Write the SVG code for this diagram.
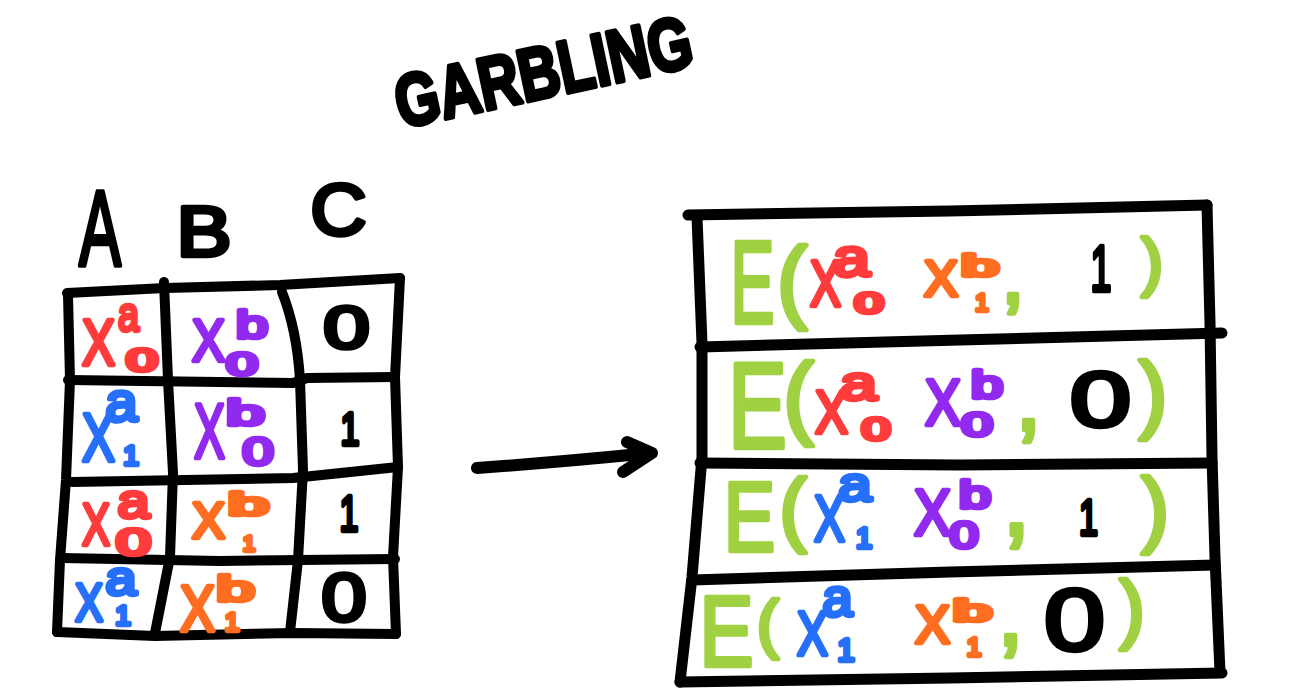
<svg xmlns="http://www.w3.org/2000/svg" width="1290" height="699" viewBox="0 0 1290 699">
<style>
text{font-family:"Liberation Sans",Arial,sans-serif;text-anchor:middle;stroke-linejoin:round;stroke-width:4.5}
.k{fill:#000;stroke:#000}
.r{fill:#ff3b3b;stroke:#ff3b3b}
.p{fill:#9229ef;stroke:#9229ef}
.b{fill:#266ff8;stroke:#266ff8}
.o{fill:#ff6d20;stroke:#ff6d20}
.g{fill:#9fd143;stroke:#9fd143}
.ln{fill:none;stroke:#000;stroke-width:10;stroke-linecap:round;stroke-linejoin:round}
.ln2{fill:none;stroke:#000;stroke-width:11;stroke-linecap:round;stroke-linejoin:round}
.ar{fill:none;stroke:#000;stroke-width:12;stroke-linecap:round;stroke-linejoin:round}
</style>
<rect width="1290" height="699" fill="#fff"/>

<g id="title">
<text class="k" transform="translate(402,128) rotate(-12)" x="150" y="0" font-size="74" font-weight="bold" textLength="302" lengthAdjust="spacingAndGlyphs">GARBLING</text>
</g>

<g id="truth-table">
<g id="headers">
<text class="k" x="100" y="266" font-size="107" textLength="42" lengthAdjust="spacingAndGlyphs">A</text>
<text class="k" x="204" y="256" font-size="71" textLength="55" lengthAdjust="spacingAndGlyphs">B</text>
<text class="k" x="338.5" y="235" font-size="72.6" textLength="56" lengthAdjust="spacingAndGlyphs">C</text>
</g>
<g id="grid-left">
<path class="ln" d="M67 293 L165 288 L280 285 L400 278"/>
<path class="ln" d="M68 295 L70 380 L66 480 L60 560 L57 632"/>
<path class="ln" d="M57 632 L155 636 L292 633 L396 634"/>
<path class="ln" d="M400 278 L395 377 L398 467 L393 557 L396 634"/>
<path class="ln" d="M164 282 L168 380 L173 473 L170 557 L155 633"/>
<path class="ln" d="M282 292 Q297 330 300 380 L303 470 L298 560 L290 632"/>
<path class="ln" d="M68 380 L293 383 L307 378 L395 377"/>
<path class="ln" d="M72 482 L293 478 L398 467"/>
<path class="ln" d="M62 558 L220 561 L395 559"/>
</g>
<g id="row-1-left">
<text class="r"><tspan x="98.5" y="365" font-size="64" textLength="33" lengthAdjust="spacingAndGlyphs">X</tspan><tspan x="128.5" y="331" font-size="49" textLength="21" lengthAdjust="spacingAndGlyphs">a</tspan><tspan x="142" y="371" font-size="30.5" textLength="31" lengthAdjust="spacingAndGlyphs">0</tspan></text>
<text class="p"><tspan x="208.5" y="361" font-size="58.7" textLength="33" lengthAdjust="spacingAndGlyphs">X</tspan><tspan x="252" y="338" font-size="39.7" textLength="32" lengthAdjust="spacingAndGlyphs">b</tspan><tspan x="242" y="375" font-size="32" textLength="31" lengthAdjust="spacingAndGlyphs">0</tspan></text>
<text class="k" x="346.5" y="348" font-size="60" textLength="46" lengthAdjust="spacingAndGlyphs">0</text>
</g>
<g id="row-2-left">
<text class="b"><tspan x="98.5" y="461" font-size="68.4" textLength="33" lengthAdjust="spacingAndGlyphs">X</tspan><tspan x="121.5" y="421" font-size="54.7" textLength="32" lengthAdjust="spacingAndGlyphs">a</tspan><tspan x="131" y="465" font-size="28">1</tspan></text>
<text class="p"><tspan x="209.5" y="458" font-size="78" textLength="31" lengthAdjust="spacingAndGlyphs">X</tspan><tspan x="245.5" y="425" font-size="35.6" textLength="38" lengthAdjust="spacingAndGlyphs">b</tspan><tspan x="258" y="465" font-size="39" textLength="31" lengthAdjust="spacingAndGlyphs">0</tspan></text>
<text class="k" x="350" y="445" font-size="46" textLength="19" lengthAdjust="spacingAndGlyphs">1</text>
</g>
<g id="row-3-left">
<text class="r"><tspan x="96" y="545" font-size="60" textLength="28" lengthAdjust="spacingAndGlyphs">X</tspan><tspan x="133.5" y="518" font-size="49" textLength="32" lengthAdjust="spacingAndGlyphs">a</tspan><tspan x="133.5" y="555" font-size="36" textLength="34.5" lengthAdjust="spacingAndGlyphs">0</tspan></text>
<text class="o"><tspan x="208.5" y="538" font-size="50" textLength="33" lengthAdjust="spacingAndGlyphs">X</tspan><tspan x="248.5" y="515" font-size="31.5" textLength="40" lengthAdjust="spacingAndGlyphs">b</tspan><tspan x="249" y="551" font-size="22">1</tspan></text>
<text class="k" x="349" y="531" font-size="50" textLength="19" lengthAdjust="spacingAndGlyphs">1</text>
</g>
<g id="row-4-left">
<text class="b"><tspan x="89" y="621" font-size="54.5" textLength="28" lengthAdjust="spacingAndGlyphs">X</tspan><tspan x="121" y="595" font-size="49" textLength="31" lengthAdjust="spacingAndGlyphs">a</tspan><tspan x="123" y="625" font-size="28">1</tspan></text>
<text class="o"><tspan x="197.5" y="631" font-size="64" textLength="35" lengthAdjust="spacingAndGlyphs">X</tspan><tspan x="235.5" y="601" font-size="35.6" textLength="38" lengthAdjust="spacingAndGlyphs">b</tspan><tspan x="232" y="631" font-size="26.5">1</tspan></text>
<text class="k" x="344" y="621" font-size="68" textLength="45" lengthAdjust="spacingAndGlyphs">0</text>
</g>
</g>

<g id="connectors">
<path class="ar" d="M477 468 Q560 462 650 453"/>
<path class="ar" d="M627 442 L652 453 L623 472"/>
</g>

<g id="garbled-table">
<g id="grid-right">
<path class="ln2" d="M688 215 L950 211 L1207 205"/>
<path class="ln2" d="M1207 205 L1210 323 L1212 457 L1215 557 L1220 672"/>
<path class="ln2" d="M697 217 L702 343 L702 457 L692 577 L680 682"/>
<path class="ln2" d="M700 347 L960 340 L1222 333"/>
<path class="ln2" d="M700 463 L960 465 L1212 463"/>
<path class="ln2" d="M692 580 L950 572 L1215 565"/>
<path class="ln2" d="M680 682 L950 678 L1222 673"/>
</g>
<g id="row-1-right">
<text class="g"><tspan x="752.5" y="323" font-size="116" textLength="44" lengthAdjust="spacingAndGlyphs">E</tspan><tspan x="792" y="311" font-size="90.4">(</tspan><tspan class="r" x="825.5" y="306" font-size="64" textLength="31" lengthAdjust="spacingAndGlyphs">X</tspan><tspan class="r" x="851.5" y="276" font-size="51" textLength="36.6" lengthAdjust="spacingAndGlyphs">a</tspan><tspan class="r" x="869" y="313" font-size="29" textLength="28.6" lengthAdjust="spacingAndGlyphs">0</tspan><tspan class="o" x="941" y="296" font-size="50" textLength="34" lengthAdjust="spacingAndGlyphs">X</tspan><tspan class="o" x="980" y="276" font-size="30" textLength="37" lengthAdjust="spacingAndGlyphs">b</tspan><tspan class="o" x="982" y="311" font-size="24">1</tspan><tspan x="1013" y="302.7" font-size="84">,</tspan><tspan class="k" x="1101" y="291" font-size="64" textLength="21" lengthAdjust="spacingAndGlyphs">1</tspan><tspan x="1152.2" y="284.3" font-size="65">)</tspan></text>
</g>
<g id="row-2-right">
<text class="g"><tspan x="757.5" y="448" font-size="123" textLength="59" lengthAdjust="spacingAndGlyphs">E</tspan><tspan x="798.4" y="426.6" font-size="91.5">(</tspan><tspan class="r" x="831.5" y="433" font-size="61.5" textLength="33" lengthAdjust="spacingAndGlyphs">X</tspan><tspan class="r" x="858.5" y="400" font-size="49" textLength="36.6" lengthAdjust="spacingAndGlyphs">a</tspan><tspan class="r" x="876" y="440" font-size="32" textLength="28.6" lengthAdjust="spacingAndGlyphs">0</tspan><tspan class="p" x="943" y="425" font-size="64" textLength="36" lengthAdjust="spacingAndGlyphs">X</tspan><tspan class="p" x="987" y="398" font-size="38" textLength="32" lengthAdjust="spacingAndGlyphs">b</tspan><tspan class="p" x="977" y="436" font-size="33" textLength="31" lengthAdjust="spacingAndGlyphs">0</tspan><tspan x="1028.5" y="429.6" font-size="92">,</tspan><tspan class="k" x="1100.5" y="426" font-size="78" textLength="61" lengthAdjust="spacingAndGlyphs">0</tspan><tspan x="1153" y="421.6" font-size="86">)</tspan></text>
</g>
<g id="row-3-right">
<text class="g"><tspan x="749.5" y="551" font-size="99" textLength="51.5" lengthAdjust="spacingAndGlyphs">E</tspan><tspan x="793" y="536" font-size="81">(</tspan><tspan class="b" x="829.5" y="541" font-size="65.6" textLength="31" lengthAdjust="spacingAndGlyphs">X</tspan><tspan class="b" x="855" y="501" font-size="49" textLength="33" lengthAdjust="spacingAndGlyphs">a</tspan><tspan class="b" x="864" y="548" font-size="29">1</tspan><tspan class="p" x="932.5" y="535" font-size="64" textLength="37" lengthAdjust="spacingAndGlyphs">X</tspan><tspan class="p" x="975" y="508" font-size="38" textLength="32" lengthAdjust="spacingAndGlyphs">b</tspan><tspan class="p" x="964" y="548" font-size="36" textLength="28.6" lengthAdjust="spacingAndGlyphs">0</tspan><tspan x="1016.5" y="535.4" font-size="100">,</tspan><tspan class="k" x="1088.5" y="535" font-size="50" textLength="19" lengthAdjust="spacingAndGlyphs">1</tspan><tspan x="1155" y="537.4" font-size="83">)</tspan></text>
</g>
<g id="row-4-right">
<text class="g"><tspan x="726.5" y="666" font-size="100.5" textLength="54" lengthAdjust="spacingAndGlyphs">E</tspan><tspan x="767.8" y="646.3" font-size="65">(</tspan><tspan class="b" x="812.5" y="655" font-size="62.8" textLength="31" lengthAdjust="spacingAndGlyphs">X</tspan><tspan class="b" x="837.5" y="616" font-size="51" textLength="30" lengthAdjust="spacingAndGlyphs">a</tspan><tspan class="b" x="846" y="661" font-size="30.7">1</tspan><tspan class="o" x="932.5" y="643" font-size="53" textLength="35" lengthAdjust="spacingAndGlyphs">X</tspan><tspan class="o" x="972.5" y="621" font-size="29" textLength="38" lengthAdjust="spacingAndGlyphs">b</tspan><tspan class="o" x="974" y="656" font-size="26.5">1</tspan><tspan x="1010.5" y="644.6" font-size="92">,</tspan><tspan class="k" x="1074.5" y="650" font-size="87.5" textLength="61" lengthAdjust="spacingAndGlyphs">0</tspan><tspan x="1132" y="634" font-size="75.5">)</tspan></text>
</g>
</g>
</svg>
